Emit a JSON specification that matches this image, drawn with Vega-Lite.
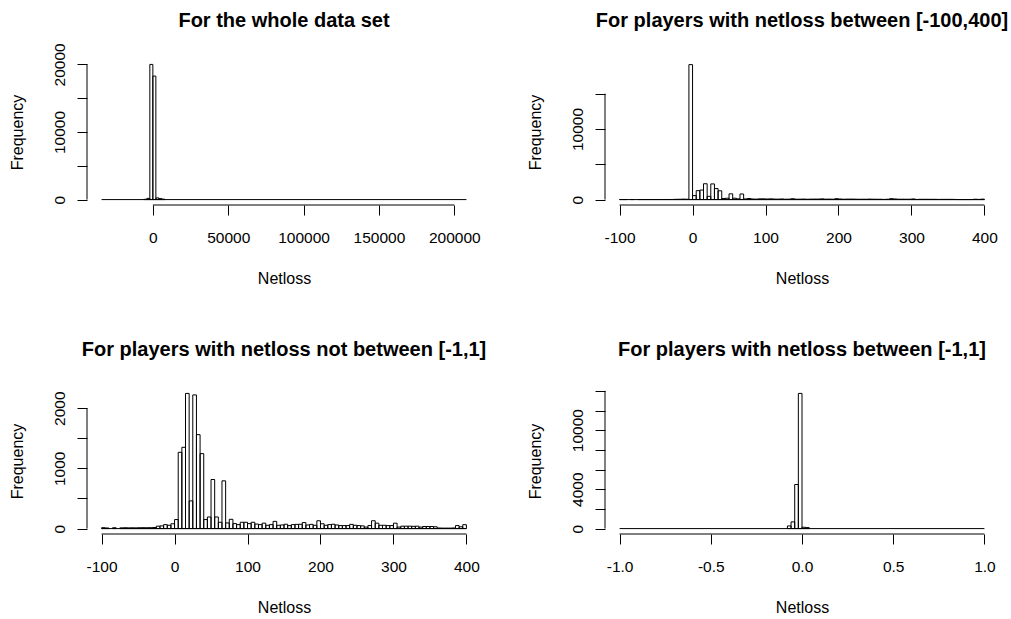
{
  "$schema": "https://vega.github.io/schema/vega-lite/v6.json",
  "background": "white",
  "padding": {"left": 8, "top": 10, "right": 0, "bottom": 0},
  "datasets": {
    "p1": [
      {"start": -6000, "end": -4000, "count": 40},
      {"start": -4000, "end": -2000, "count": 180},
      {"start": -2000, "end": 0, "count": 20000},
      {"start": 0, "end": 2000, "count": 18270},
      {"start": 2000, "end": 4000, "count": 250},
      {"start": 4000, "end": 6000, "count": 150},
      {"start": 6000, "end": 8000, "count": 60}
    ],
    "p2": [
      {"start": -100, "end": -95, "count": 15}, {"start": -95, "end": -90, "count": 10}, {"start": -85, "end": -80, "count": 14},
      {"start": -75, "end": -70, "count": 12}, {"start": -70, "end": -65, "count": 14}, {"start": -65, "end": -60, "count": 12},
      {"start": -60, "end": -55, "count": 13}, {"start": -55, "end": -50, "count": 12}, {"start": -50, "end": -45, "count": 14},
      {"start": -45, "end": -40, "count": 15}, {"start": -40, "end": -35, "count": 14}, {"start": -35, "end": -30, "count": 15},
      {"start": -30, "end": -25, "count": 18}, {"start": -25, "end": -20, "count": 40}, {"start": -20, "end": -15, "count": 45},
      {"start": -15, "end": -10, "count": 66}, {"start": -10, "end": -5, "count": 55}, {"start": -5, "end": 0, "count": 19120},
      {"start": 0, "end": 5, "count": 566}, {"start": 5, "end": 10, "count": 1267}, {"start": 10, "end": 15, "count": 1350},
      {"start": 15, "end": 20, "count": 2245}, {"start": 20, "end": 25, "count": 460}, {"start": 25, "end": 30, "count": 2220},
      {"start": 30, "end": 35, "count": 1560}, {"start": 35, "end": 40, "count": 1245}, {"start": 40, "end": 45, "count": 150},
      {"start": 45, "end": 50, "count": 193}, {"start": 50, "end": 55, "count": 815}, {"start": 55, "end": 60, "count": 193},
      {"start": 60, "end": 65, "count": 105}, {"start": 65, "end": 70, "count": 793}, {"start": 70, "end": 75, "count": 94},
      {"start": 75, "end": 80, "count": 154}, {"start": 80, "end": 85, "count": 83}, {"start": 85, "end": 90, "count": 66},
      {"start": 90, "end": 95, "count": 105}, {"start": 95, "end": 100, "count": 105}, {"start": 100, "end": 105, "count": 83},
      {"start": 105, "end": 110, "count": 105}, {"start": 110, "end": 115, "count": 75}, {"start": 115, "end": 120, "count": 66},
      {"start": 120, "end": 125, "count": 90}, {"start": 125, "end": 130, "count": 55}, {"start": 130, "end": 135, "count": 66},
      {"start": 135, "end": 140, "count": 120}, {"start": 140, "end": 145, "count": 55}, {"start": 145, "end": 150, "count": 60},
      {"start": 150, "end": 155, "count": 72}, {"start": 155, "end": 160, "count": 50}, {"start": 160, "end": 165, "count": 66},
      {"start": 165, "end": 170, "count": 70}, {"start": 170, "end": 175, "count": 72}, {"start": 175, "end": 180, "count": 100},
      {"start": 180, "end": 185, "count": 60}, {"start": 185, "end": 190, "count": 70}, {"start": 190, "end": 195, "count": 55},
      {"start": 195, "end": 200, "count": 130}, {"start": 200, "end": 205, "count": 80}, {"start": 205, "end": 210, "count": 55},
      {"start": 210, "end": 215, "count": 66}, {"start": 215, "end": 220, "count": 72}, {"start": 220, "end": 225, "count": 60},
      {"start": 225, "end": 230, "count": 50}, {"start": 230, "end": 235, "count": 50}, {"start": 235, "end": 240, "count": 50},
      {"start": 240, "end": 245, "count": 70}, {"start": 245, "end": 250, "count": 55}, {"start": 250, "end": 255, "count": 50},
      {"start": 255, "end": 260, "count": 45}, {"start": 260, "end": 265, "count": 25}, {"start": 265, "end": 270, "count": 50},
      {"start": 270, "end": 275, "count": 130}, {"start": 275, "end": 280, "count": 90}, {"start": 280, "end": 285, "count": 55},
      {"start": 285, "end": 290, "count": 55}, {"start": 290, "end": 295, "count": 50}, {"start": 295, "end": 300, "count": 50},
      {"start": 300, "end": 305, "count": 90}, {"start": 305, "end": 310, "count": 25}, {"start": 310, "end": 315, "count": 40},
      {"start": 315, "end": 320, "count": 40}, {"start": 320, "end": 325, "count": 40}, {"start": 325, "end": 330, "count": 38},
      {"start": 330, "end": 335, "count": 40}, {"start": 335, "end": 340, "count": 25}, {"start": 340, "end": 345, "count": 35},
      {"start": 345, "end": 350, "count": 35}, {"start": 350, "end": 355, "count": 35}, {"start": 355, "end": 360, "count": 30},
      {"start": 360, "end": 365, "count": 10}, {"start": 365, "end": 370, "count": 8}, {"start": 370, "end": 375, "count": 8},
      {"start": 375, "end": 380, "count": 8}, {"start": 380, "end": 385, "count": 10}, {"start": 385, "end": 390, "count": 50},
      {"start": 390, "end": 395, "count": 30}, {"start": 395, "end": 400, "count": 65}
    ],
    "p3": [
      {"start": -100, "end": -95, "count": 15}, {"start": -95, "end": -90, "count": 10}, {"start": -85, "end": -80, "count": 14},
      {"start": -75, "end": -70, "count": 12}, {"start": -70, "end": -65, "count": 14}, {"start": -65, "end": -60, "count": 12},
      {"start": -60, "end": -55, "count": 13}, {"start": -55, "end": -50, "count": 12}, {"start": -50, "end": -45, "count": 14},
      {"start": -45, "end": -40, "count": 15}, {"start": -40, "end": -35, "count": 14}, {"start": -35, "end": -30, "count": 15},
      {"start": -30, "end": -25, "count": 18}, {"start": -25, "end": -20, "count": 40}, {"start": -20, "end": -15, "count": 45},
      {"start": -15, "end": -10, "count": 66}, {"start": -10, "end": -5, "count": 55}, {"start": -5, "end": 0, "count": 80},
      {"start": 0, "end": 5, "count": 150}, {"start": 5, "end": 10, "count": 1267}, {"start": 10, "end": 15, "count": 1350},
      {"start": 15, "end": 20, "count": 2245}, {"start": 20, "end": 25, "count": 460}, {"start": 25, "end": 30, "count": 2220},
      {"start": 30, "end": 35, "count": 1560}, {"start": 35, "end": 40, "count": 1245}, {"start": 40, "end": 45, "count": 150},
      {"start": 45, "end": 50, "count": 193}, {"start": 50, "end": 55, "count": 815}, {"start": 55, "end": 60, "count": 193},
      {"start": 60, "end": 65, "count": 105}, {"start": 65, "end": 70, "count": 793}, {"start": 70, "end": 75, "count": 94},
      {"start": 75, "end": 80, "count": 154}, {"start": 80, "end": 85, "count": 83}, {"start": 85, "end": 90, "count": 66},
      {"start": 90, "end": 95, "count": 105}, {"start": 95, "end": 100, "count": 105}, {"start": 100, "end": 105, "count": 83},
      {"start": 105, "end": 110, "count": 105}, {"start": 110, "end": 115, "count": 75}, {"start": 115, "end": 120, "count": 66},
      {"start": 120, "end": 125, "count": 90}, {"start": 125, "end": 130, "count": 55}, {"start": 130, "end": 135, "count": 66},
      {"start": 135, "end": 140, "count": 120}, {"start": 140, "end": 145, "count": 55}, {"start": 145, "end": 150, "count": 60},
      {"start": 150, "end": 155, "count": 72}, {"start": 155, "end": 160, "count": 50}, {"start": 160, "end": 165, "count": 66},
      {"start": 165, "end": 170, "count": 70}, {"start": 170, "end": 175, "count": 72}, {"start": 175, "end": 180, "count": 100},
      {"start": 180, "end": 185, "count": 60}, {"start": 185, "end": 190, "count": 70}, {"start": 190, "end": 195, "count": 55},
      {"start": 195, "end": 200, "count": 130}, {"start": 200, "end": 205, "count": 80}, {"start": 205, "end": 210, "count": 55},
      {"start": 210, "end": 215, "count": 66}, {"start": 215, "end": 220, "count": 72}, {"start": 220, "end": 225, "count": 60},
      {"start": 225, "end": 230, "count": 50}, {"start": 230, "end": 235, "count": 50}, {"start": 235, "end": 240, "count": 50},
      {"start": 240, "end": 245, "count": 70}, {"start": 245, "end": 250, "count": 55}, {"start": 250, "end": 255, "count": 50},
      {"start": 255, "end": 260, "count": 45}, {"start": 260, "end": 265, "count": 25}, {"start": 265, "end": 270, "count": 50},
      {"start": 270, "end": 275, "count": 130}, {"start": 275, "end": 280, "count": 90}, {"start": 280, "end": 285, "count": 55},
      {"start": 285, "end": 290, "count": 55}, {"start": 290, "end": 295, "count": 50}, {"start": 295, "end": 300, "count": 50},
      {"start": 300, "end": 305, "count": 90}, {"start": 305, "end": 310, "count": 25}, {"start": 310, "end": 315, "count": 40},
      {"start": 315, "end": 320, "count": 40}, {"start": 320, "end": 325, "count": 40}, {"start": 325, "end": 330, "count": 38},
      {"start": 330, "end": 335, "count": 40}, {"start": 335, "end": 340, "count": 25}, {"start": 340, "end": 345, "count": 35},
      {"start": 345, "end": 350, "count": 35}, {"start": 350, "end": 355, "count": 35}, {"start": 355, "end": 360, "count": 30},
      {"start": 360, "end": 365, "count": 10}, {"start": 365, "end": 370, "count": 8}, {"start": 370, "end": 375, "count": 8},
      {"start": 375, "end": 380, "count": 8}, {"start": 380, "end": 385, "count": 10}, {"start": 385, "end": 390, "count": 50},
      {"start": 390, "end": 395, "count": 30}, {"start": 395, "end": 400, "count": 65}
    ],
    "p4": [
      {"start": -0.08, "end": -0.06, "count": 270},
      {"start": -0.06, "end": -0.04, "count": 680},
      {"start": -0.04, "end": -0.02, "count": 4480},
      {"start": -0.02, "end": 0, "count": 13737},
      {"start": 0, "end": 0.02, "count": 135},
      {"start": 0.02, "end": 0.04, "count": 100}
    ]
  },
  "columns": 2,
  "spacing": {"column": 124, "row": 183},
  "bounds": "flush",
  "concat": [
    {
      "width": 394, "height": 146,
      "title": {"text": "For the whole data set", "offset": 12},
      "layer": [
        {"data": {"values": [{}]}, "mark": {"type": "rule", "color": "black", "strokeWidth": 1},
         "encoding": {"x": {"datum": -34000, "type": "quantitative"}, "x2": {"datum": 208000}, "y": {"datum": 0, "type": "quantitative"}}},
        {"data": {"name": "p1"}, "mark": {"type": "rect", "filled": false, "color": "black", "strokeWidth": 1},
         "encoding": {
           "x": {"field": "start", "type": "quantitative", "scale": {"domain": [-43680, 217680], "nice": false, "zero": false},
                 "axis": {"values": [0, 50000, 100000, 150000, 200000], "tickCount": 20, "format": "d", "title": "Netloss"}},
           "x2": {"field": "end"},
           "y": {"field": "count", "type": "quantitative", "scale": {"domain": [-800, 20800], "nice": false, "zero": false},
                 "axis": {"values": [0, 5000, 10000, 15000, 20000], "tickCount": 20, "format": "d", "labelExpr": "datum.value == 5000 || datum.value == 15000 ? '' : datum.label", "title": "Frequency"}},
           "y2": {"datum": 0}
         }},
        {"data": {"values": [{}]}, "mark": {"type": "rule", "color": "black", "strokeWidth": 1},
         "encoding": {"x": {"datum": 0, "type": "quantitative"}, "x2": {"datum": 200000}, "y": {"datum": -800, "type": "quantitative"}}},
        {"data": {"values": [{}]}, "mark": {"type": "rule", "color": "black", "strokeWidth": 1},
         "encoding": {"x": {"datum": -43680, "type": "quantitative"}, "y": {"datum": 0, "type": "quantitative"}, "y2": {"datum": 20000}}}
      ]
    },
    {
      "width": 394, "height": 146,
      "title": {"text": "For players with netloss between [-100,400]", "offset": 28},
      "layer": [
        {"data": {"values": [{}]}, "mark": {"type": "rule", "color": "black", "strokeWidth": 1},
         "encoding": {"x": {"datum": -100, "type": "quantitative"}, "x2": {"datum": 400}, "y": {"datum": 0, "type": "quantitative"}}},
        {"data": {"name": "p2"}, "mark": {"type": "rect", "filled": false, "color": "black", "strokeWidth": 1},
         "encoding": {
           "x": {"field": "start", "type": "quantitative", "scale": {"domain": [-120, 420], "nice": false, "zero": false},
                 "axis": {"values": [-100, 0, 100, 200, 300, 400], "tickCount": 20, "labelExpr": "replace(datum.label, '\u2212', '-')", "title": "Netloss"}},
           "x2": {"field": "end"},
           "y": {"field": "count", "type": "quantitative", "scale": {"domain": [-766, 19916], "nice": false, "zero": false},
                 "axis": {"values": [0, 5000, 10000, 15000], "tickCount": 20, "format": "d", "labelExpr": "datum.value == 5000 || datum.value == 15000 ? '' : datum.label", "title": "Frequency"}},
           "y2": {"datum": 0}
         }},
        {"data": {"values": [{}]}, "mark": {"type": "rule", "color": "black", "strokeWidth": 1},
         "encoding": {"x": {"datum": -100, "type": "quantitative"}, "x2": {"datum": 400}, "y": {"datum": -766, "type": "quantitative"}}},
        {"data": {"values": [{}]}, "mark": {"type": "rule", "color": "black", "strokeWidth": 1},
         "encoding": {"x": {"datum": -120, "type": "quantitative"}, "y": {"datum": 0, "type": "quantitative"}, "y2": {"datum": 15000}}}
      ]
    },
    {
      "width": 394, "height": 146,
      "title": {"text": "For players with netloss not between [-1,1]", "offset": 28},
      "layer": [
        {"data": {"values": [{}]}, "mark": {"type": "rule", "color": "black", "strokeWidth": 1},
         "encoding": {"x": {"datum": -100, "type": "quantitative"}, "x2": {"datum": 400}, "y": {"datum": 0, "type": "quantitative"}}},
        {"data": {"name": "p3"}, "mark": {"type": "rect", "filled": false, "color": "black", "strokeWidth": 1},
         "encoding": {
           "x": {"field": "start", "type": "quantitative", "scale": {"domain": [-120, 420], "nice": false, "zero": false},
                 "axis": {"values": [-100, 0, 100, 200, 300, 400], "tickCount": 20, "labelExpr": "replace(datum.label, '\u2212', '-')", "title": "Netloss"}},
           "x2": {"field": "end"},
           "y": {"field": "count", "type": "quantitative", "scale": {"domain": [-89.8, 2334.8], "nice": false, "zero": false},
                 "axis": {"values": [0, 500, 1000, 1500, 2000], "tickCount": 20, "format": "d", "labelExpr": "datum.value == 500 || datum.value == 1500 ? '' : datum.label", "title": "Frequency"}},
           "y2": {"datum": 0}
         }},
        {"data": {"values": [{}]}, "mark": {"type": "rule", "color": "black", "strokeWidth": 1},
         "encoding": {"x": {"datum": -100, "type": "quantitative"}, "x2": {"datum": 400}, "y": {"datum": -89.8, "type": "quantitative"}}},
        {"data": {"values": [{}]}, "mark": {"type": "rule", "color": "black", "strokeWidth": 1},
         "encoding": {"x": {"datum": -120, "type": "quantitative"}, "y": {"datum": 0, "type": "quantitative"}, "y2": {"datum": 2000}}}
      ]
    },
    {
      "width": 394, "height": 146,
      "title": {"text": "For players with netloss between [-1,1]", "offset": 28},
      "layer": [
        {"data": {"values": [{}]}, "mark": {"type": "rule", "color": "black", "strokeWidth": 1},
         "encoding": {"x": {"datum": -1, "type": "quantitative"}, "x2": {"datum": 1}, "y": {"datum": 0, "type": "quantitative"}}},
        {"data": {"name": "p4"}, "mark": {"type": "rect", "filled": false, "color": "black", "strokeWidth": 1},
         "encoding": {
           "x": {"field": "start", "type": "quantitative", "scale": {"domain": [-1.08, 1.08], "nice": false, "zero": false},
                 "axis": {"values": [-1, -0.5, 0, 0.5, 1], "tickCount": 20, "format": ".1f", "labelExpr": "replace(datum.label, '\u2212', '-')", "title": "Netloss"}},
           "x2": {"field": "end"},
           "y": {"field": "count", "type": "quantitative", "scale": {"domain": [-549.5, 14286.5], "nice": false, "zero": false},
                 "axis": {"values": [0, 2000, 4000, 6000, 8000, 10000, 12000, 14000], "tickCount": 20, "format": "d", "labelExpr": "datum.value == 0 || datum.value == 4000 || datum.value == 10000 ? datum.label : ''", "title": "Frequency"}},
           "y2": {"datum": 0}
         }},
        {"data": {"values": [{}]}, "mark": {"type": "rule", "color": "black", "strokeWidth": 1},
         "encoding": {"x": {"datum": -1, "type": "quantitative"}, "x2": {"datum": 1}, "y": {"datum": -549.5, "type": "quantitative"}}},
        {"data": {"values": [{}]}, "mark": {"type": "rule", "color": "black", "strokeWidth": 1},
         "encoding": {"x": {"datum": -1.08, "type": "quantitative"}, "y": {"datum": 0, "type": "quantitative"}, "y2": {"datum": 14000}}}
      ]
    }
  ],
  "config": {
    "font": "Liberation Sans",
    "view": {"stroke": null},
    "title": {"font": "Liberation Sans", "fontSize": 20, "fontWeight": "bold", "color": "black", "anchor": "middle", "frame": "group", "baseline": "alphabetic"},
    "axis": {
      "grid": false, "domain": false,
      "ticks": true, "tickColor": "black", "tickSize": 10, "tickWidth": 1,
      "labelFont": "Liberation Sans", "labelFontSize": 15.5, "labelColor": "black", "labelFlush": false, "labelOverlap": false,
      "titleFont": "Liberation Sans", "titleFontSize": 16, "titleFontWeight": "normal", "titleColor": "black"
    },
    "axisX": {"labelBaseline": "alphabetic", "labelPadding": 27, "titlePadding": 25},
    "axisY": {"labelAngle": -90, "labelAlign": "center", "labelBaseline": "alphabetic", "labelPadding": 13, "titlePadding": 27}
  }
}
